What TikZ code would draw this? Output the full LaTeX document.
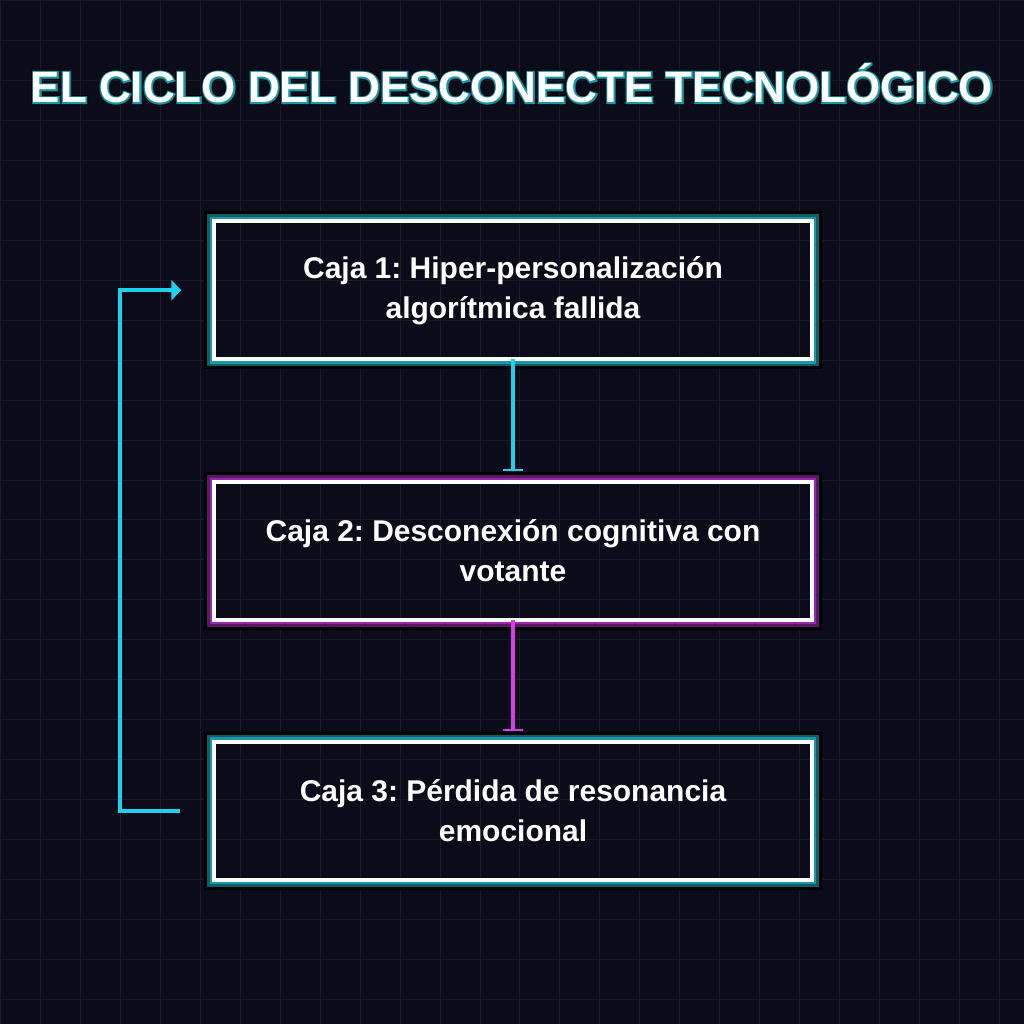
\documentclass[tikz,border=0pt]{standalone}
\usepackage{fontspec}
\setmainfont{Liberation Sans}
\frenchspacing
\usetikzlibrary{arrows.meta,backgrounds}
\definecolor{bgc}{RGB}{11,11,26}
\definecolor{gridc}{RGB}{26,26,46}
\definecolor{cyanc}{RGB}{31,208,236}
\definecolor{magc}{RGB}{214,62,232}
\definecolor{tealA}{RGB}{26,152,168}
\definecolor{tealB}{RGB}{14,92,102}
\definecolor{purA}{RGB}{150,40,170}
\definecolor{purB}{RGB}{88,24,100}
\tikzset{
  boxnode/.style={draw=white, line width=4pt, minimum width=598pt, minimum height=138pt,
    text=white, align=center, font=\bfseries\fontsize{30}{40}\selectfont, inner sep=0pt, outer sep=0pt},
  glowblack/.style={draw=black, line width=8pt},
  cyanline/.style={draw=cyanc, line width=4pt},
  magline/.style={draw=magc, line width=4pt},
  titlefont/.style={font=\bfseries\fontsize{44}{50}\selectfont, inner sep=0pt}
}
\newcommand{\glowframe}[3]{%
  \draw[glowblack] ([shift={(-6pt,6pt)}]#1.north west) rectangle ([shift={(6pt,-6pt)}]#1.south east);
  \draw[draw=#3, line width=5pt] ([shift={(-4.5pt,4.5pt)}]#1.north west) rectangle ([shift={(4.5pt,-4.5pt)}]#1.south east);
  \draw[draw=#2, line width=2.5pt] ([shift={(-3.2pt,3.2pt)}]#1.north west) rectangle ([shift={(3.2pt,-3.2pt)}]#1.south east);
}
\newcommand{\titletext}{EL CICLO DEL DESCONECTE TECNOLÓGICO}
\begin{document}
\begin{tikzpicture}[x=1pt,y=-1pt]
\begin{scope}[on background layer]
\fill[bgc] (0,0) rectangle (1024,1024);
\foreach \g in {0,40,...,1000} {
  \draw[gridc, line width=1pt] (\g,0) -- (\g,1024);
  \draw[gridc, line width=1pt] (0,\g) -- (1024,\g);
}
\end{scope}
\useasboundingbox (0,0) rectangle (1024,1024);
% title with glow
\node[titlefont, text=black] (titleA) at (512,83) {\addfontfeature{FakeBold=11}\titletext};
\node[titlefont, text=tealB] (titleB) at (512,83) {\addfontfeature{FakeBold=8}\titletext};
\node[titlefont, text=tealA] (titleC) at (512,83) {\addfontfeature{FakeBold=5}\titletext};
\node[titlefont, text=white] (title) at (512,83) {\titletext};

\node[boxnode] (b1) at (513,290) {Caja 1: Hiper-personalización\\algorítmica fallida};
\node[boxnode] (b2) at (513,551) {Caja 2: Desconexión cognitiva con\\votante};
\node[boxnode] (b3) at (513,811) {Caja 3: Pérdida de resonancia\\emocional};

\begin{scope}[on background layer]
  \glowframe{b1}{tealA}{tealB}
  \glowframe{b2}{purA}{purB}
  \glowframe{b3}{tealA}{tealB}
\end{scope}

\coordinate (e1) at ([yshift=11pt]b2.north);
\coordinate (e2) at ([yshift=11pt]b3.north);
\draw[cyanline, -{Bar[width=20pt, line width=2pt]}] (b1.south) -- (e1);
\draw[magline, -{Bar[width=20pt, line width=2pt]}] (b2.south) -- (e2);

\coordinate (s3) at ([xshift=-34pt]b3.west);
\coordinate (t1) at ([xshift=-33pt]b1.west);
\draw[cyanline, -{Triangle[length=10pt,width=20pt]}] (s3) -- ++(-60pt,0) |- (t1);
\end{tikzpicture}
\end{document}
